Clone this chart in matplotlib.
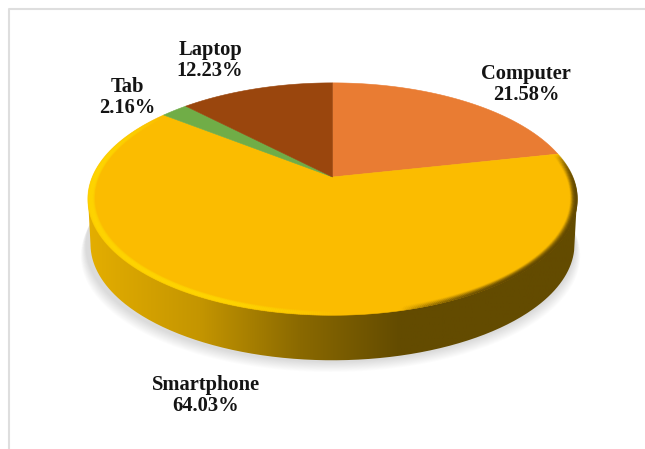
import matplotlib
matplotlib.use("Agg")
import matplotlib.pyplot as plt
from matplotlib.collections import LineCollection
from matplotlib.colors import to_rgb
from matplotlib.patches import Polygon
from matplotlib.path import Path
import numpy as np

# Valores del grafico
labels = ["Computer", "Smartphone", "Tab", "Laptop"]
percents = [21.58, 64.03, 2.16, 12.23]
colors = ["#E97C33", "#FBBC00", "#70AD47", "#9A460D"]
label_pos = [(526, 84.5), (206, 395.5), (127, 97.5), (210, 60.5)]

# Geometria de la proyeccion en pixeles
CX, CY = 332.5, 177
BX, AY, K = 240, 112, 0.19
DEPTH = 45
BOTTOM_SCALE = 0.99


# Proyecta un punto del disco (angulo desde arriba, horario) a la imagen
def project(theta, r=1.0):
    c = r * np.sin(theta)
    s = r * np.cos(theta)
    w = 1 + K * s
    return CX + BX * c / w, CY - AY * s / w


def side_color(x):
    stops_x = [88, 200, 300, 400, 580]
    stops_r = [228, 196, 138, 99, 99]
    stops_g = [174, 149, 105, 75, 75]
    return np.array([np.interp(x, stops_x, stops_r),
                     np.interp(x, stops_x, stops_g),
                     0 * x]) / 255


fig = plt.figure(figsize=(6.45, 4.49), dpi=100)
ax = fig.add_axes([0, 0, 1, 1])
ax.set_xlim(0, 645)
ax.set_ylim(449, 0)
ax.axis("off")

# Marco de la imagen
ax.plot([9, 9, 645], [449, 9, 9], color="#DEDEDE", lw=1.5, zorder=1)

# Sombra difusa bajo el disco
t_all = np.linspace(0, 2 * np.pi, 361)
x_all, y_all = project(t_all)
for i in range(12):
    grow = 1 + (12 - i) * 0.0018
    sx = CX + (x_all - CX) * grow - 2
    sy = y_all + DEPTH + 1 + (12 - i) * 0.9
    ax.add_patch(Polygon(np.column_stack([sx, sy]), closed=True, fc="#000000",
                         ec="none", alpha=0.013, zorder=2))

# Lateral con degradado horizontal, recortado a la silueta
t_right = t_all[np.argmax(x_all)]
t_left = t_all[np.argmin(x_all)]
t_low = np.linspace(t_right, t_left, 300)
xl, yl = project(t_low)
xb = CX + (xl - CX) * BOTTOM_SCALE
yb = yl + DEPTH
side_path = Path(np.vstack([np.column_stack([xl, yl])[[0]],
                            np.column_stack([xb, yb]),
                            np.column_stack([xl, yl])[[-1]],
                            np.column_stack([xl, yl])[[0]]]))
xs = np.linspace(x_all.min(), x_all.max(), 500)
grad = side_color(xs).T[np.newaxis, :, :]
im = ax.imshow(grad, extent=[xs[0], xs[-1], 449, 0], aspect="auto", zorder=3,
               interpolation="bilinear")
im.set_clip_path(side_path, ax.transData)
ax.set_xlim(0, 645)
ax.set_ylim(449, 0)

# Gajos a partir de los porcentajes
angles = np.cumsum([0] + percents) / sum(percents) * 2 * np.pi
for i in range(len(percents)):
    t = np.linspace(angles[i], angles[i + 1], 200)
    x, y = project(t)
    verts = np.vstack([[[CX, CY]], np.column_stack([x, y])])
    ax.add_patch(Polygon(verts, closed=True, fc=colors[i], ec=colors[i],
                         lw=0.4, zorder=4))

# Bisel del borde: brillante a la izquierda, oscuro a la derecha
base = np.array(to_rgb(colors[1]))
bright = np.array([1.0, 0.84, 0.0])
shade = np.array([0.39, 0.29, 0.0])
t_bev = np.linspace(angles[1], angles[2], 600)
for r in np.linspace(1.0, 0.972, 11):
    x, y = project(t_bev, r)
    pts = np.column_stack([x, y])
    segs = np.stack([pts[:-1], pts[1:]], axis=1)
    xm = x[:-1]
    depth_in = (1 - r) / 0.028
    light = np.clip((CX - xm + 10) / 130, 0, 1)
    dark = np.clip((xm - CX - 70) / 120, 0, 1)
    mix = np.clip(light + dark, 1e-6, 1)
    rgba = np.zeros((len(xm), 4))
    for j in range(3):
        rgba[:, j] = (bright[j] * light + shade[j] * dark) / mix
    band = np.sin(np.pi * np.clip(depth_in * 0.85 + 0.15, 0, 1))
    # se apaga hacia la parte trasera del disco
    ends = np.clip((t_bev[:-1] - angles[1]) / 0.35, 0, 1) * np.clip((angles[2] - t_bev[:-1]) / 0.6, 0, 1)
    rgba[:, 3] = (light * band * 0.6 + dark * (1 - depth_in) ** 1.5 * 0.85) * ends
    ax.add_collection(LineCollection(segs, colors=rgba, lw=1.0, zorder=5, capstyle="round"))

# Etiquetas
for name, pct, (tx, ty) in zip(labels, percents, label_pos):
    ax.text(tx, ty, "{}\n{:.2f}%".format(name, pct), ha="center", va="center",
            family="Liberation Serif", fontweight="bold", fontsize=14.8,
            color="#141414", linespacing=1.1, zorder=6)

fig.savefig("out.png", dpi=100)
